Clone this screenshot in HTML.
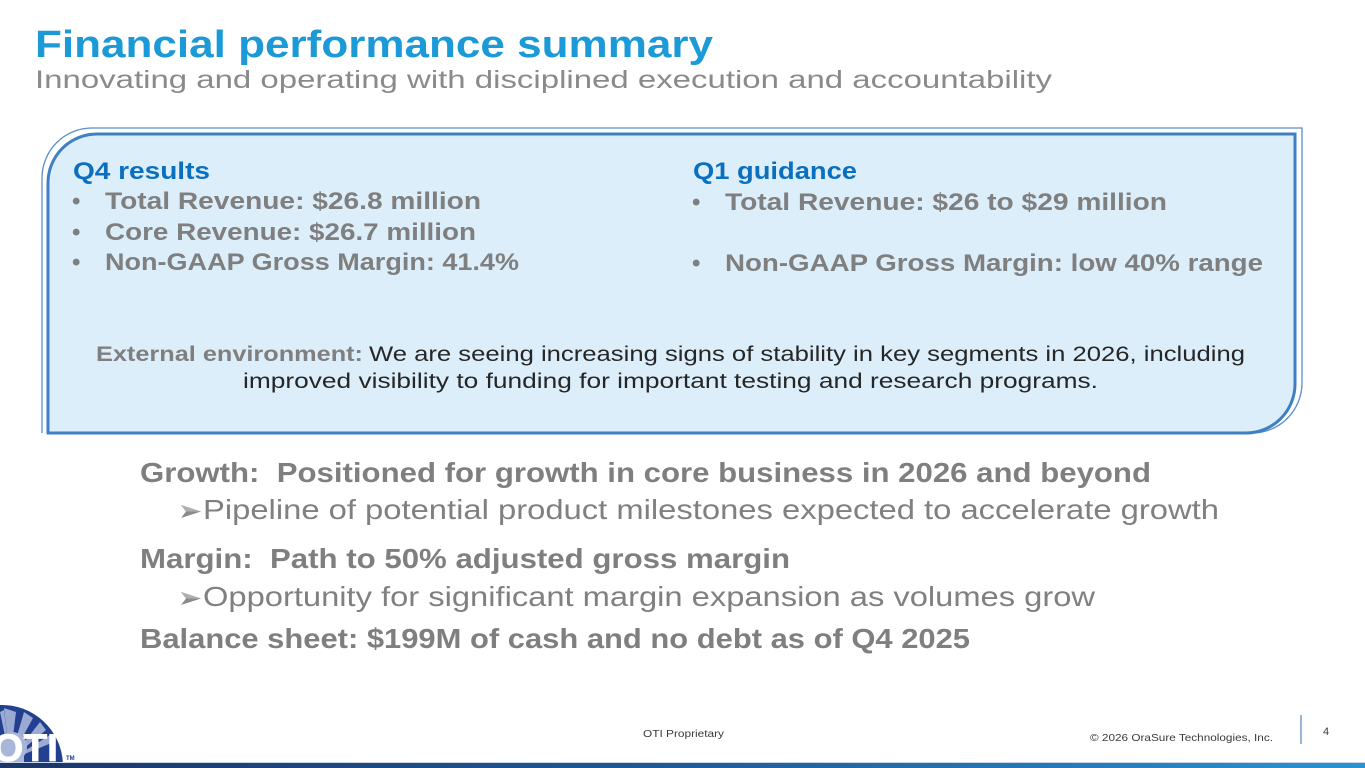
<!DOCTYPE html>
<html>
<head>
<meta charset="utf-8">
<style>
  html,body{margin:0;padding:0;background:#ffffff;width:1365px;height:768px;overflow:hidden;}
  svg{display:block;position:absolute;left:0;top:0;overflow:hidden;}
  text{font-family:"Liberation Sans", "DejaVu Sans", sans-serif;white-space:pre;}
  .oti{position:absolute;left:0;top:734px;width:70px;height:29px;overflow:hidden;}
  .oti span{position:absolute;left:-7px;top:0;
       font-family:"Liberation Sans", sans-serif;font-weight:bold;font-size:39px;line-height:30px;
       color:#ffffff;white-space:nowrap;-webkit-text-stroke:0.8px #ffffff;}
</style>
</head>
<body>
<svg width="1365" height="768" viewBox="0 0 1365 768" xmlns="http://www.w3.org/2000/svg">
  <defs>
    <linearGradient id="bar" x1="0" y1="0" x2="1" y2="0">
      <stop offset="0" stop-color="#1c3566"/>
      <stop offset="0.5" stop-color="#1f5a97"/>
      <stop offset="1" stop-color="#2b93d3"/>
    </linearGradient>
  </defs>

  <rect x="0" y="0" width="1365" height="768" fill="#ffffff"/>

  <!-- Title -->
  <text x="35" y="57" font-size="38" font-weight="bold" fill="#1b9ad7" textLength="678" lengthAdjust="spacingAndGlyphs">Financial performance summary</text>
  <text x="35" y="88" font-size="25" fill="#8a8a8a" textLength="1017" lengthAdjust="spacingAndGlyphs">Innovating and operating with disciplined execution and accountability</text>

  <!-- Box outer thin line -->
  <path d="M42,433 L42,178 A50,50 0 0 1 92,128 L1302,128 L1302,383 A50,50 0 0 1 1252,433" fill="none" stroke="#5b8fca" stroke-width="1.3"/>
  <!-- Box inner -->
  <path d="M48,433 L48,183 A49,49 0 0 1 97,134 L1295,134 L1295,384 A49,49 0 0 1 1246,433 Z" fill="#ddeefb" stroke="#3f7fc4" stroke-width="3"/>

  <!-- Q4 results -->
  <text x="73" y="179" font-size="24" font-weight="bold" fill="#0b6fc0" textLength="137" lengthAdjust="spacingAndGlyphs">Q4 results</text>
  <text x="72" y="209" font-size="24" font-weight="bold" fill="#7f7f7f">•</text>
  <text x="105" y="209" font-size="24" font-weight="bold" fill="#7f7f7f" textLength="376" lengthAdjust="spacingAndGlyphs">Total Revenue: $26.8 million</text>
  <text x="72" y="240" font-size="24" font-weight="bold" fill="#7f7f7f">•</text>
  <text x="105" y="240" font-size="24" font-weight="bold" fill="#7f7f7f" textLength="371" lengthAdjust="spacingAndGlyphs">Core Revenue: $26.7 million</text>
  <text x="72" y="270" font-size="24" font-weight="bold" fill="#7f7f7f">•</text>
  <text x="105" y="270" font-size="24" font-weight="bold" fill="#7f7f7f" textLength="414" lengthAdjust="spacingAndGlyphs">Non-GAAP Gross Margin: 41.4%</text>

  <!-- Q1 guidance -->
  <text x="693" y="179" font-size="24" font-weight="bold" fill="#0b6fc0" textLength="164" lengthAdjust="spacingAndGlyphs">Q1 guidance</text>
  <text x="692" y="210" font-size="24" font-weight="bold" fill="#7f7f7f">•</text>
  <text x="725" y="210" font-size="24" font-weight="bold" fill="#7f7f7f" textLength="442" lengthAdjust="spacingAndGlyphs">Total Revenue: $26 to $29 million</text>
  <text x="692" y="271" font-size="24" font-weight="bold" fill="#7f7f7f">•</text>
  <text x="725" y="271" font-size="24" font-weight="bold" fill="#7f7f7f" textLength="538" lengthAdjust="spacingAndGlyphs">Non-GAAP Gross Margin: low 40% range</text>

  <!-- External environment -->
  <text x="96" y="361" font-size="21" font-weight="bold" fill="#7f7f7f" textLength="267" lengthAdjust="spacingAndGlyphs">External environment:</text>
  <text x="369" y="361" font-size="21" fill="#262626" textLength="876" lengthAdjust="spacingAndGlyphs">We are seeing increasing signs of stability in key segments in 2026, including</text>
  <text x="243" y="388" font-size="21" fill="#262626" textLength="855" lengthAdjust="spacingAndGlyphs">improved visibility to funding for important testing and research programs.</text>

  <!-- Lower section -->
  <text x="140" y="482" font-size="28" font-weight="bold" fill="#7f7f7f" textLength="1011" lengthAdjust="spacingAndGlyphs">Growth:  Positioned for growth in core business in 2026 and beyond</text>
  <polygon points="181,505 201,511.5 181,518 186,511.5" fill="#8a8a8a"/>
  <polygon points="181,505 201,511.5 186,511.5" fill="#b0b0b0"/>
  <text x="203" y="519" font-size="28" fill="#808080" textLength="1016" lengthAdjust="spacingAndGlyphs">Pipeline of potential product milestones expected to accelerate growth</text>

  <text x="140" y="568" font-size="28" font-weight="bold" fill="#7f7f7f" textLength="650" lengthAdjust="spacingAndGlyphs">Margin:  Path to 50% adjusted gross margin</text>
  <polygon points="181,592 201,598.5 181,605 186,598.5" fill="#8a8a8a"/>
  <polygon points="181,592 201,598.5 186,598.5" fill="#b0b0b0"/>
  <text x="203" y="606" font-size="28" fill="#808080" textLength="892" lengthAdjust="spacingAndGlyphs">Opportunity for significant margin expansion as volumes grow</text>

  <text x="140" y="648" font-size="28" font-weight="bold" fill="#7f7f7f" textLength="830" lengthAdjust="spacingAndGlyphs">Balance sheet: $199M of cash and no debt as of Q4 2025</text>

  <!-- Footer -->
  <text x="643" y="737" font-size="10.5" fill="#3a3a3a" textLength="81" lengthAdjust="spacingAndGlyphs">OTI Proprietary</text>
  <text x="1090" y="741" font-size="10.5" fill="#3a3a3a" textLength="183" lengthAdjust="spacingAndGlyphs">© 2026 OraSure Technologies, Inc.</text>
  <line x1="1301" y1="715" x2="1301" y2="744" stroke="#2f6db0" stroke-width="1"/>
  <text x="1323" y="735" font-size="11" fill="#3a3a3a">4</text>

  <!-- Logo graphic (kept within frame) -->
  <path d="M0,763 L0,705 A61,61 0 0 1 62.9,763 Z" fill="#22408f"/>
  <g fill="#9aaad2">
    <polygon points="10,760 4,708 16,712"/>
    <polygon points="10,760 24,712 33,718"/>
    <polygon points="10,760 40,722 46,730"/>
    <polygon points="10,760 50,735 54,742"/>
    <polygon points="10,760 0,712 4,710"/>
  </g>
  <path d="M0,763 L0,738 A15,15 0 0 1 24,756 L24,763 Z" fill="#a9b6da"/>
  <text x="66" y="760" font-size="6" font-weight="bold" fill="#22408f">TM</text>

  <!-- Bottom bar -->
  <rect x="0" y="762" width="1365" height="1" fill="#c9d6e8"/>
  <rect x="0" y="763" width="1365" height="5" fill="url(#bar)"/>
</svg>
<div class="oti"><span>OTI</span></div>
</body>
</html>
